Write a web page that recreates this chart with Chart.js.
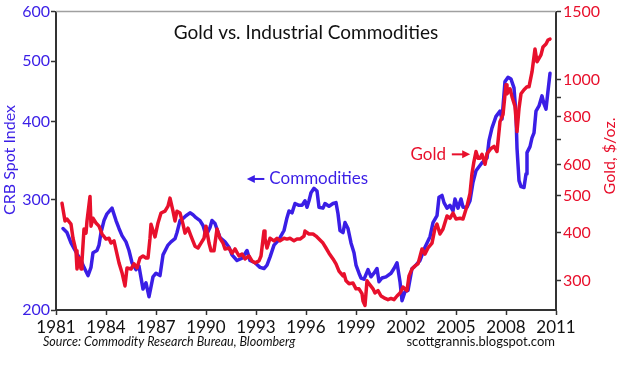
<!DOCTYPE html>
<html lang="en">
<head>
  <meta charset="UTF-8" />
  <title>Gold vs. Industrial Commodities</title>
  <script src="https://cdn.jsdelivr.net/npm/chart.js"></script>
  <style>
    body { margin: 0; background: #fff; }
    canvas { display: block; }
  </style>
</head>
<body>
  <canvas id="chart" width="620" height="373"></canvas>

  <script>
    // CRB spot index (left axis)
    const crbYears = [1981.42, 1981.66, 1981.90, 1982.08, 1982.26, 1982.50, 1982.68, 1982.92, 1983.10, 1983.22,
      1983.46, 1983.58, 1983.70, 1983.88, 1984.06, 1984.36, 1984.60, 1984.78, 1984.96, 1985.20,
      1985.38, 1985.56, 1985.80, 1985.98, 1986.22, 1986.40, 1986.58, 1986.82, 1987.00, 1987.24,
      1987.42, 1987.72, 1987.90, 1988.14, 1988.26, 1988.44, 1988.62, 1988.80, 1989.04, 1989.22,
      1989.40, 1989.64, 1989.82, 1990.00, 1990.24, 1990.36, 1990.54, 1990.84, 1991.14, 1991.38,
      1991.56, 1991.86, 1992.16, 1992.46, 1992.64, 1992.94, 1993.24, 1993.48, 1993.66, 1993.84,
      1994.08, 1994.26, 1994.44, 1994.68, 1994.86, 1994.98, 1995.16, 1995.34, 1995.58, 1995.76,
      1995.94, 1996.06, 1996.18, 1996.30, 1996.48, 1996.66, 1996.78, 1997.02, 1997.14, 1997.38,
      1997.62, 1997.80, 1997.92, 1998.04, 1998.22, 1998.34, 1998.52, 1998.70, 1998.88, 1999.00,
      1999.18, 1999.30, 1999.48, 1999.72, 1999.90, 2000.08, 2000.26, 2000.38, 2000.56, 2000.80,
      2001.10, 2001.28, 2001.46, 2001.64, 2001.76, 2001.94, 2002.12, 2002.36, 2002.54, 2002.84,
      2003.14, 2003.44, 2003.62, 2003.86, 2003.98, 2004.16, 2004.28, 2004.46, 2004.64, 2004.82,
      2004.94, 2005.12, 2005.30, 2005.42, 2005.66, 2005.84, 2006.02, 2006.20, 2006.38, 2006.56,
      2006.86, 2006.98, 2007.16, 2007.40, 2007.64, 2007.76, 2007.94, 2008.12, 2008.30, 2008.48,
      2008.60, 2008.66, 2008.78, 2008.90, 2009.08, 2009.20, 2009.26, 2009.44, 2009.56, 2009.68,
      2009.80, 2009.98, 2010.16, 2010.28, 2010.40, 2010.52, 2010.64];
    const crbValues = [270, 266, 256, 251, 246, 240, 234, 227, 234, 247,
      249, 254, 266, 278, 285, 291, 278, 270, 263, 257,
      249, 238, 232, 235, 216, 221, 210, 226, 229, 227,
      245, 254, 257, 260, 266, 278, 280, 283, 286, 284,
      281, 278, 273, 263, 271, 278, 275, 261, 257, 252,
      245, 240, 242, 249, 240, 238, 234, 233, 236, 243,
      254, 257, 261, 268, 281, 288, 286, 296, 294, 294,
      299, 292, 299, 308, 313, 310, 292, 291, 296, 293,
      296, 297, 285, 268, 266, 276, 270, 256, 247, 236,
      229, 225, 224, 232, 226, 229, 233, 222, 225, 226,
      229, 233, 238, 222, 207, 214, 215, 233, 235, 240,
      252, 262, 276, 283, 303, 305, 297, 291, 294, 288,
      301, 291, 301, 292, 292, 299, 320, 334, 339, 344,
      350, 373, 391, 408, 416, 404, 464, 471, 468, 453,
      411, 363, 322, 315, 314, 330, 357, 365, 377, 384,
      416, 424, 440, 427, 419, 448, 478];

    // Gold $/oz (right axis)
    const goldYears = [1981.36, 1981.54, 1981.66, 1981.90, 1982.02, 1982.20, 1982.26, 1982.38, 1982.50, 1982.56,
      1982.68, 1982.80, 1982.86, 1983.04, 1983.10, 1983.22, 1983.40, 1983.58, 1983.76, 1984.00,
      1984.18, 1984.30, 1984.48, 1984.66, 1984.78, 1984.96, 1985.14, 1985.26, 1985.50, 1985.68,
      1985.86, 1986.04, 1986.22, 1986.40, 1986.52, 1986.64, 1986.70, 1986.94, 1987.12, 1987.30,
      1987.54, 1987.72, 1987.84, 1988.02, 1988.14, 1988.26, 1988.44, 1988.62, 1988.74, 1988.92,
      1989.10, 1989.34, 1989.52, 1989.70, 1989.88, 1990.00, 1990.18, 1990.30, 1990.48, 1990.66,
      1990.84, 1991.02, 1991.14, 1991.38, 1991.56, 1991.74, 1991.98, 1992.16, 1992.34, 1992.58,
      1992.76, 1992.94, 1993.18, 1993.30, 1993.48, 1993.54, 1993.66, 1993.84, 1994.08, 1994.26,
      1994.44, 1994.68, 1994.86, 1995.04, 1995.28, 1995.46, 1995.64, 1995.88, 1995.94, 1996.18,
      1996.42, 1996.60, 1996.78, 1997.02, 1997.20, 1997.38, 1997.62, 1997.80, 1997.98, 1998.22,
      1998.28, 1998.40, 1998.58, 1998.82, 1999.00, 1999.18, 1999.36, 1999.42, 1999.54, 1999.66,
      1999.78, 2000.02, 2000.14, 2000.32, 2000.50, 2000.68, 2000.92, 2001.10, 2001.28, 2001.46,
      2001.64, 2001.82, 2002.06, 2002.18, 2002.36, 2002.54, 2002.72, 2002.96, 2003.14, 2003.32,
      2003.56, 2003.74, 2003.86, 2004.04, 2004.22, 2004.46, 2004.64, 2004.82, 2005.00, 2005.24,
      2005.42, 2005.66, 2005.84, 2005.96, 2006.08, 2006.20, 2006.32, 2006.44, 2006.56, 2006.74,
      2006.86, 2007.10, 2007.28, 2007.46, 2007.64, 2007.82, 2008.00, 2008.06, 2008.24, 2008.36,
      2008.54, 2008.66, 2008.78, 2008.90, 2009.08, 2009.26, 2009.38, 2009.56, 2009.74, 2009.86,
      2010.10, 2010.22, 2010.40, 2010.52, 2010.64];
    const goldValues = [477, 429, 434, 421, 387, 359, 322, 344, 322, 338,
      409, 399, 429, 497, 416, 436, 424, 416, 397, 385,
      387, 376, 381, 352, 334, 315, 291, 324, 322, 332,
      324, 344, 348, 344, 344, 387, 421, 390, 424, 450,
      455, 469, 492, 455, 429, 455, 450, 421, 399, 411,
      392, 369, 365, 376, 387, 416, 376, 359, 359, 409,
      387, 376, 363, 365, 354, 363, 348, 352, 342, 348,
      338, 334, 338, 348, 404, 387, 365, 387, 381, 387,
      381, 387, 385, 387, 381, 385, 385, 392, 404, 397,
      397, 392, 385, 376, 365, 354, 342, 332, 318, 309,
      313, 300, 295, 296, 286, 286, 278, 266, 259, 300,
      295, 286, 279, 283, 274, 271, 268, 270, 268, 274,
      279, 289, 283, 309, 322, 328, 332, 363, 352, 365,
      376, 411, 421, 397, 409, 442, 436, 450, 434, 436,
      434, 469, 506, 570, 613, 650, 624, 624, 639, 602,
      642, 662, 670, 650, 777, 810, 968, 918, 946, 902,
      850, 732, 840, 918, 940, 957, 957, 1046, 1200, 1111,
      1158, 1214, 1236, 1266, 1273];

    const yearTicks = [1981, 1984, 1987, 1990, 1993, 1996, 1999, 2002, 2005, 2008, 2011];
    const crbTicks = [200, 300, 400, 500, 600];
    const goldTicks = [300, 400, 500, 600, 700, 800, 900, 1000, 1500];
    const goldTickLabels = ['300', '400', '500', '600', '', '800', '', '1000', '1500'];

    const BLUE = '#3a1ee6';
    const RED = '#e8102c';
    const FONT = 'Lato';

    const toPoints = (xs, ys) => xs.map((x, i) => ({ x, y: ys[i] }));

    function arrow(ctx, from, to, y, color) {
      const dir = Math.sign(to - from);
      ctx.strokeStyle = color;
      ctx.fillStyle = color;
      ctx.lineWidth = 2;
      ctx.beginPath();
      ctx.moveTo(from, y);
      ctx.lineTo(to - dir * 6, y);
      ctx.stroke();
      ctx.beginPath();
      ctx.moveTo(to, y);
      ctx.lineTo(to - dir * 8, y - 4);
      ctx.lineTo(to - dir * 8, y + 4);
      ctx.closePath();
      ctx.fill();
    }

    // texts that sit on the chart: title, notes, axis titles, source line
    const decorations = {
      id: 'decorations',
      afterDraw(chart) {
        const { ctx, chartArea: a, scales } = chart;
        ctx.save();

        ctx.strokeStyle = '#a0a0a0';
        ctx.lineWidth = 1.5;
        ctx.beginPath();
        ctx.moveTo(a.left, a.top);
        ctx.lineTo(a.right, a.top);
        ctx.stroke();

        ctx.textBaseline = 'middle';
        ctx.fillStyle = '#111';
        ctx.font = `19px ${FONT}`;
        ctx.textAlign = 'center';
        ctx.fillText('Gold vs. Industrial Commodities', (a.left + a.right) / 2, a.top + 21);

        // commodities note
        let y = scales.y.getPixelForValue(324);
        arrow(ctx, scales.x.getPixelForValue(1993.5), scales.x.getPixelForValue(1992.45), y, BLUE);
        ctx.fillStyle = BLUE;
        ctx.font = `17px ${FONT}`;
        ctx.textAlign = 'left';
        ctx.fillText('Commodities', scales.x.getPixelForValue(1993.8), y);

        // gold note
        y = scales.y1.getPixelForValue(639);
        ctx.fillStyle = RED;
        ctx.textAlign = 'right';
        ctx.fillText('Gold', scales.x.getPixelForValue(2004.4), y);
        arrow(ctx, scales.x.getPixelForValue(2004.75), scales.x.getPixelForValue(2005.85), y, RED);

        // axis titles
        ctx.font = `16px ${FONT}`;
        ctx.textAlign = 'center';
        ctx.save();
        ctx.translate(10, 160);
        ctx.rotate(-Math.PI / 2);
        ctx.fillStyle = BLUE;
        ctx.fillText('CRB Spot Index', 0, 0);
        ctx.restore();
        ctx.save();
        ctx.translate(610, 156);
        ctx.rotate(-Math.PI / 2);
        ctx.fillStyle = RED;
        ctx.fillText('Gold, $/oz.', 0, 0);
        ctx.restore();

        // source
        ctx.fillStyle = '#111';
        ctx.font = `italic 12.5px ${FONT}`;
        ctx.textAlign = 'left';
        ctx.fillText('Source: Commodity Research Bureau, Bloomberg', 43, 342);
        ctx.font = `13px ${FONT}`;
        ctx.textAlign = 'right';
        ctx.fillText('scottgrannis.blogspot.com', 555, 342);

        ctx.restore();
      }
    };

    const axisGrid = {
      drawOnChartArea: false,
      drawTicks: true,
      tickLength: 5,
      tickColor: '#333',
      tickWidth: 1.5
    };

    const lineStyle = {
      borderWidth: 3.5,
      borderJoinStyle: 'round',
      borderCapStyle: 'round',
      pointRadius: 0,
      tension: 0
    };

    new Chart(document.getElementById('chart'), {
      type: 'line',
      data: {
        datasets: [
          {
            label: 'Gold',
            data: toPoints(goldYears, goldValues),
            yAxisID: 'y1',
            borderColor: RED,
            ...lineStyle
          },
          {
            label: 'Commodities',
            data: toPoints(crbYears, crbValues),
            yAxisID: 'y',
            borderColor: BLUE,
            ...lineStyle
          }
        ]
      },
      options: {
        responsive: false,
        animation: false,
        devicePixelRatio: 1,
        layout: { padding: { top: 10, left: 0, right: 0, bottom: 0 } },
        plugins: { legend: { display: false }, tooltip: { enabled: false } },
        scales: {
          x: {
            type: 'linear',
            min: 1981,
            max: 2011,
            afterBuildTicks: s => { s.ticks = yearTicks.map(v => ({ value: v })); },
            afterFit: s => { s.height = 63; },
            ticks: {
              autoSkip: false,
              maxRotation: 0,
              padding: 2,
              color: '#111',
              font: { family: FONT, size: 17 },
              callback: v => String(v)
            },
            grid: axisGrid,
            border: { color: '#333', width: 2 }
          },
          y: {
            type: 'logarithmic',
            position: 'left',
            min: 200,
            max: 600,
            afterBuildTicks: s => { s.ticks = crbTicks.map(v => ({ value: v })); },
            afterFit: s => { s.width = 56; },
            ticks: {
              autoSkip: false,
              padding: 1,
              color: BLUE,
              font: { family: FONT, size: 16 },
              callback: v => String(v)
            },
            grid: axisGrid,
            border: { color: '#333', width: 2 }
          },
          y1: {
            type: 'logarithmic',
            position: 'right',
            min: 252,
            max: 1500,
            afterBuildTicks: s => { s.ticks = goldTicks.map(v => ({ value: v })); },
            afterFit: s => { s.width = 64; },
            ticks: {
              autoSkip: false,
              padding: 2,
              color: RED,
              font: { family: FONT, size: 16 },
              callback: v => goldTickLabels[goldTicks.indexOf(v)]
            },
            grid: axisGrid,
            border: { color: '#333', width: 2 }
          }
        }
      },
      plugins: [decorations]
    });
  </script>
</body>
</html>
